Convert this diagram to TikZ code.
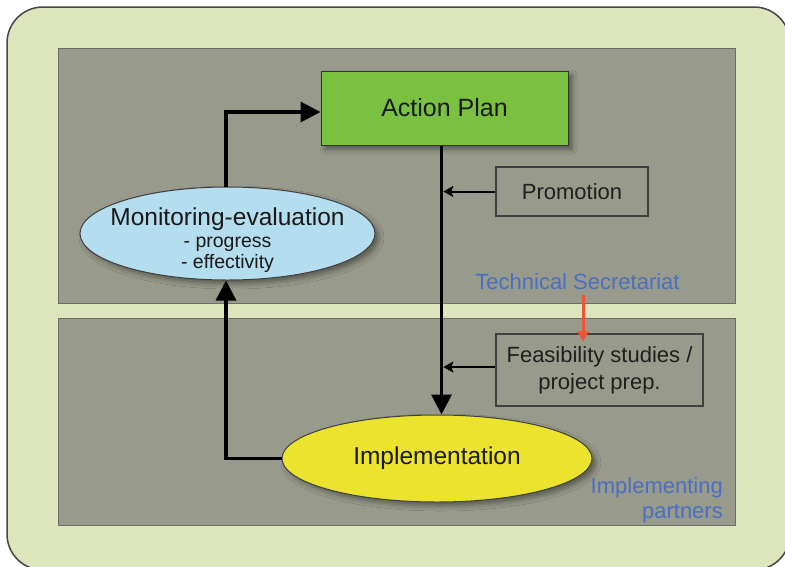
\documentclass[tikz,border=0pt]{standalone}
\usepackage{fontspec}
\setmainfont{Liberation Sans}
\usetikzlibrary{arrows.meta,shadows.blur,shapes.geometric}
\definecolor{bgc}{RGB}{221,229,188}
\definecolor{panelc}{RGB}{152,155,139}
\definecolor{greenc}{RGB}{122,193,66}
\definecolor{bluec}{RGB}{181,221,240}
\definecolor{yellowc}{RGB}{235,227,46}
\definecolor{textblue}{RGB}{74,111,196}
\definecolor{redc}{RGB}{240,82,52}
\definecolor{framec}{RGB}{70,70,66}
\tikzset{
  panel/.style={draw=framec!80, line width=1pt, fill=panelc},
  mainbox/.style={draw=black!80, line width=1pt, fill=greenc, inner sep=0pt,
    minimum width=247pt, minimum height=74pt,
    font=\fontsize{25}{30}\selectfont, text=black!90,
    blur shadow={shadow xshift=4pt, shadow yshift=-4pt, shadow blur radius=5pt, shadow opacity=45}},
  sidebox/.style={draw=black!75, line width=1.2pt, fill=panelc, inner sep=0pt,
    font=\fontsize{22}{27}\selectfont, text=black!88, align=center},
  ell/.style={ellipse, draw=black!75, line width=1pt, inner sep=0pt,
    blur shadow={shadow xshift=4pt, shadow yshift=-4pt, shadow blur radius=5pt, shadow opacity=40}},
  bluetext/.style={text=textblue, inner sep=0pt, font=\fontsize{22}{25}\selectfont},
  mainarrow/.style={line width=3.5pt, draw=black, -{Triangle[length=20pt,width=20pt]}},
  sidearrow/.style={line width=2pt, draw=black, -{Stealth[length=10pt,width=11pt,inset=2pt]}},
  redarrow/.style={line width=3pt, draw=redc, -{Triangle[length=10pt,width=11pt]}}
}
\begin{document}
\begin{tikzpicture}[x=1pt,y=-1pt]
\clip (0,0) rectangle (785,566);
\fill[white] (0,0) rectangle (785,566);
% outer frame
\draw[draw=framec, line width=1.5pt, fill=bgc, rounded corners=36pt] (7,7) rectangle (790,570);
% panels
\draw[panel] (58,48) rectangle (735,303);
\draw[panel] (58,318) rectangle (735,525);

% nodes
\node[mainbox] (ap) at (444.5,108) {Action Plan};
\node[sidebox, minimum width=152pt, minimum height=49pt] (prom) at (572,191.5) {Promotion};
\node[sidebox, minimum width=207pt, minimum height=72pt] (feas) at (599.5,370) {\raisebox{-3pt}{Feasibility studies /}\\[0pt]\raisebox{-3pt}{project prep.}};
\node[ell, fill=bluec, minimum width=295pt, minimum height=93pt] (mon) at (227.5,233.5) {};
\node[anchor=north, inner sep=0pt, align=center, text=black!90,
      font=\fontsize{19.5}{21.5}\selectfont] (montext) at (227.5,208)
      {{\fontsize{24.5}{21.5}\selectfont Monitoring-evaluation}\\- progress\\- effectivity};
\node[ell, fill=yellowc, minimum width=310pt, minimum height=87pt,
      font=\fontsize{24.5}{29}\selectfont, text=black!90] (impl) at (437,458.5) {Implementation};
\node[bluetext, anchor=base] (ts) at (577.5,289) {Technical Secretariat};
\node[bluetext, anchor=north east, align=right] (ip) at (723,477) {Implementing\\partners};

% connectors
\coordinate (vx) at ([xshift=-3pt]ap.south);
\draw[mainarrow] (vx) -- (vx |- impl.north);
\draw[sidearrow, shorten >=1.8pt] (prom.west) -- (prom.west -| vx);
\draw[sidearrow, shorten >=1.8pt] ([yshift=3pt]feas.west) -- ([yshift=3pt]feas.west -| vx);
\draw[mainarrow] (impl.west) -| ([xshift=-1.5pt]mon.south);
\draw[mainarrow] ([xshift=-1.5pt]mon.north) |- ([yshift=-4pt]ap.west);
\draw[redarrow, shorten <=6pt, shorten >=-8pt] ([xshift=5.5pt]ts.south) -- ([xshift=5.5pt]ts.south |- feas.north);
\end{tikzpicture}
\end{document}
